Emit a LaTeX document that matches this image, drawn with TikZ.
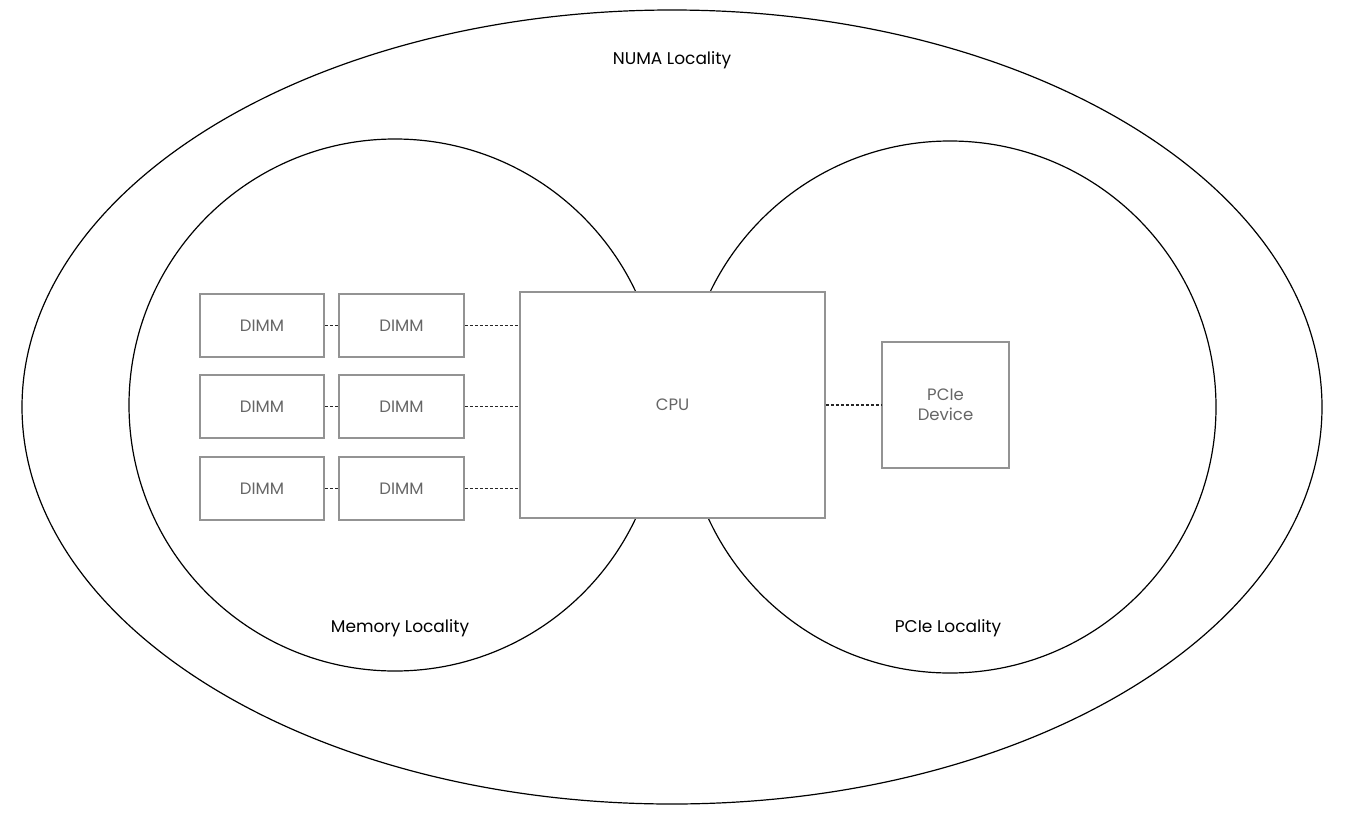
\documentclass[tikz,border=0pt]{standalone}
\usepackage{fontspec}
\setmainfont{Poppins}
\begin{document}
\begin{tikzpicture}[x=1pt,y=-1pt,
  region/.style={draw=black,line width=1.2pt},
  box/.style={draw=gray!85,line width=1.5pt,fill=white,text=black!60,font=\fontsize{16.5}{20}\selectfont,align=center,inner sep=0pt},
  link/.style={draw=black!85,line width=1.3pt,dash pattern=on 3pt off 2pt},
  lbl/.style={text=black,font=\fontsize{17}{20}\selectfont}]
\useasboundingbox (0,0) rectangle (1348,819);
\fill[white] (0,0) rectangle (1348,819);
\draw[region] (672,407) ellipse [x radius=650, y radius=397];
\draw[region] (395,405) circle [radius=266];
\draw[region] (950,407) circle [radius=266];
\node[lbl] (numa) at (672,60) {NUMA Locality};
\node[lbl] (meml) at (400,628) {Memory Locality};
\node[lbl] (pcil) at (948,628) {PCIe Locality};
\node[box,minimum width=305pt,minimum height=226pt] (cpu) at (672.5,405) {CPU};
\node[box,minimum width=127pt,minimum height=126pt] (pcie) at (945.5,405) {PCIe\\Device};
\foreach \r/\y in {1/325.5,2/406.5,3/488.5}{
  \node[box,minimum width=124pt,minimum height=63pt] (a\r) at (262,\y) {DIMM};
  \node[box,minimum width=125pt,minimum height=63pt] (b\r) at (401.5,\y) {DIMM};
  \draw[link] (a\r.east) -- (b\r.east -| b\r.west);
  \draw[link] (b\r.east) -- (b\r.east -| cpu.west);
}
\draw[link] (cpu.east |- pcie.west) -- (pcie.west);
\end{tikzpicture}
\end{document}
